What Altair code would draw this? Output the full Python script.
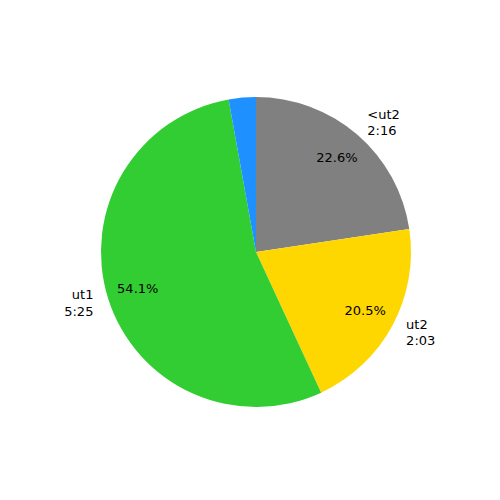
import altair as alt
import pandas as pd

labels = ["<ut2", "ut2", "ut1", ""]
times = ["2:16", "2:03", "5:25", ""]
minutes = [136, 123, 325, 17]
colors = ["#808080", "#FFD700", "#32CD32", "#1E90FF"]

df = pd.DataFrame({
    "idx": list(range(len(labels))),
    "label": labels,
    "time": times,
    "minutes": minutes,
    "color": colors,
})

base = alt.Chart(df).transform_joinaggregate(
    total="sum(minutes)"
).transform_window(
    cum="sum(minutes)", sort=[alt.SortField("idx")]
).transform_calculate(
    frac="datum.minutes / datum.total",
    mid="(datum.cum - datum.minutes / 2) / datum.total",
    full="datum.label == '' ? '' : datum.label + '\\n' + datum.time",
).transform_calculate(
    pct="datum.frac > 0.05 ? format(datum.frac, '.1%') : ''",
    right_txt="datum.mid < 0.5 ? datum.full : ''",
    left_txt="datum.mid >= 0.5 ? datum.full : ''",
).encode(
    theta=alt.Theta("minutes:Q", stack=True),
    order=alt.Order("idx:Q"),
    x=alt.value(248),
    y=alt.value(244),
)

pie = base.mark_arc(outerRadius=155, stroke=None).encode(
    color=alt.Color("color:N", scale=None)
)

font = "DejaVu Sans"
pct = base.mark_text(radius=124, fontSize=13, font=font, color="black",
                     align="center", baseline="middle").encode(text="pct:N")
right = base.mark_text(radius=170.5, fontSize=13, font=font, color="black",
                       align="left", baseline="middle", lineBreak="\n",
                       lineHeight=16.7, dy=-8.3).encode(text="right_txt:N")
left = base.mark_text(radius=170.5, fontSize=13, font=font, color="black",
                      align="right", baseline="middle", lineBreak="\n",
                      lineHeight=16.7, dy=-8.3).encode(text="left_txt:N")

chart = alt.layer(pie, pct, right, left).properties(
    width=484, height=484, padding=0,
    autosize=alt.AutoSizeParams(type="none"),
).configure_view(stroke=None)

chart.save("out.html", embed_options={"renderer": "svg", "actions": False})
